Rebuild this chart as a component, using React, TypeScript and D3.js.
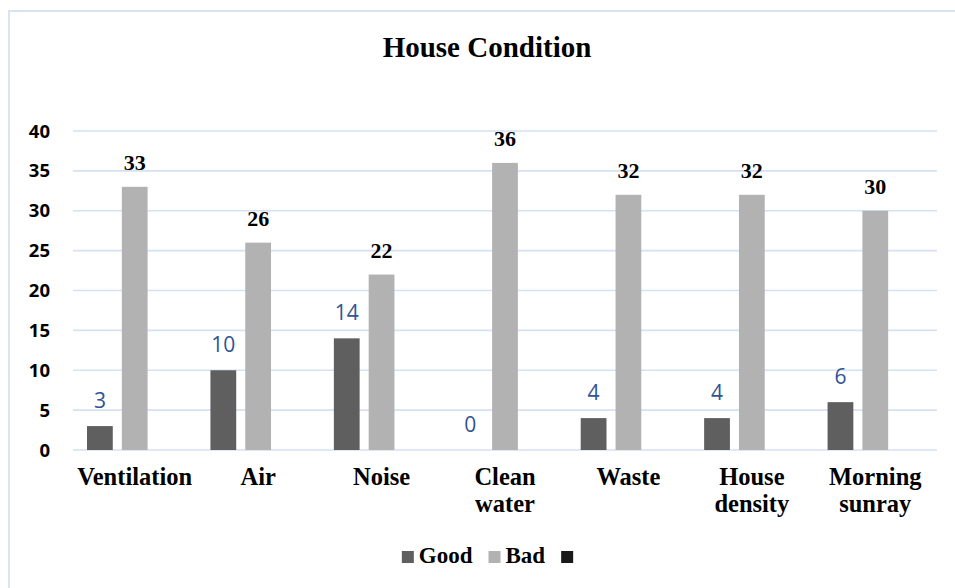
import { useRef, useEffect } from 'react'
import * as d3 from 'd3'

const categories = ['Ventilation', 'Air', 'Noise', 'Clean water', 'Waste', 'House density', 'Morning sunray']
const goodValues = [3, 10, 14, 0, 4, 4, 6]
const badValues = [33, 26, 22, 36, 32, 32, 30]
const thirdValues = [0, 0, 0, 0, 0, 0, 0]
const seriesNames = ['Good', 'Bad', '']
const yTicks = [0, 5, 10, 15, 20, 25, 30, 35, 40]

const W = 955
const H = 588

export default function App() {
  const svgRef = useRef<SVGSVGElement>(null)

  useEffect(() => {
    const svg = d3.select(svgRef.current)
    svg.selectAll('*').remove()

    const left = 73
    const right = 937
    const top = 131
    const bottom = 450

    const x = d3.scaleBand().domain(categories).range([left, right]).paddingInner(0).paddingOuter(0)
    const inner = d3.scaleBand().domain(['0', '1', '2']).range([14, x.bandwidth() - 14]).paddingInner(0.26).paddingOuter(0)
    const y = d3.scaleLinear().domain([0, 40]).range([bottom, top])

    const colors = ['#5f5f5f', '#b2b2b2', '#1a1a1a']
    const series = [goodValues, badValues, thirdValues]
    const serif = '"Liberation Serif", "Times New Roman", serif'

    // outer frame (runs off the right / bottom edge)
    svg.append('rect')
      .attr('x', 9).attr('y', 11)
      .attr('width', W + 20).attr('height', H + 20)
      .attr('fill', 'none')
      .attr('stroke', '#d9e3f3')
      .attr('stroke-width', 2)

    svg.append('text')
      .attr('x', 487).attr('y', 57)
      .attr('text-anchor', 'middle')
      .attr('font-family', serif)
      .attr('font-weight', 700)
      .attr('font-size', 29)
      .attr('fill', '#000')
      .text('House Condition')

    // gridlines
    svg.append('g')
      .selectAll('line')
      .data(yTicks)
      .join('line')
      .attr('x1', left).attr('x2', right)
      .attr('y1', (d) => y(d)).attr('y2', (d) => y(d))
      .attr('stroke', '#d6e1f4')
      .attr('stroke-width', 1.6)

    // y tick labels
    svg.append('g')
      .selectAll('text')
      .data(yTicks)
      .join('text')
      .attr('x', 50)
      .attr('y', (d) => y(d) + 6.5)
      .attr('text-anchor', 'end')
      .attr('font-family', '"Open Sans", sans-serif')
      .attr('font-weight', 700)
      .attr('font-size', 18.5)
      .attr('fill', '#000')
      .text((d) => d)

    // bars
    series.forEach((vals, si) => {
      svg.append('g')
        .selectAll('rect')
        .data(vals.map((v, i) => ({ v, c: categories[i] })))
        .join('rect')
        .attr('x', (d) => (x(d.c) ?? 0) + (inner(String(si)) ?? 0))
        .attr('width', inner.bandwidth())
        .attr('y', (d) => y(d.v))
        .attr('height', (d) => y(0) - y(d.v))
        .attr('fill', colors[si])
    })

    // good value labels
    svg.append('g')
      .selectAll('text')
      .data(goodValues.map((v, i) => ({ v, c: categories[i] })))
      .join('text')
      .attr('x', (d) => (x(d.c) ?? 0) + (inner('0') ?? 0) + inner.bandwidth() / 2)
      .attr('y', (d) => y(d.v) - 18)
      .attr('text-anchor', 'middle')
      .attr('font-family', '"Open Sans", sans-serif')
      .attr('font-size', 21)
      .attr('fill', '#2f5496')
      .text((d) => d.v)

    // bad value labels
    svg.append('g')
      .selectAll('text')
      .data(badValues.map((v, i) => ({ v, c: categories[i] })))
      .join('text')
      .attr('x', (d) => (x(d.c) ?? 0) + (inner('1') ?? 0) + inner.bandwidth() / 2)
      .attr('y', (d) => y(d.v) - 17)
      .attr('text-anchor', 'middle')
      .attr('font-family', serif)
      .attr('font-weight', 700)
      .attr('font-size', 22)
      .attr('fill', '#000')
      .text((d) => d.v)

    // category labels
    const xl = svg.append('g')
      .selectAll('text')
      .data(categories)
      .join('text')
      .attr('x', (d) => (x(d) ?? 0) + x.bandwidth() / 2)
      .attr('y', 485)
      .attr('text-anchor', 'middle')
      .attr('font-family', serif)
      .attr('font-weight', 700)
      .attr('font-size', 24.5)
      .attr('fill', '#000')
    xl.each(function (d) {
      const words = d.split(' ')
      const t = d3.select(this)
      words.forEach((w, i) => {
        t.append('tspan')
          .attr('x', (x(d) ?? 0) + x.bandwidth() / 2)
          .attr('dy', i === 0 ? 0 : 27)
          .text(w)
      })
    })

    // legend
    const lg = svg.append('g')
    let cx = 0
    seriesNames.forEach((name, i) => {
      lg.append('rect')
        .attr('x', cx).attr('y', 551)
        .attr('width', 12).attr('height', 12)
        .attr('fill', colors[i])
      cx += 17
      if (name) {
        const t = lg.append('text')
          .attr('x', cx).attr('y', 563)
          .attr('font-family', serif)
          .attr('font-weight', 700)
          .attr('font-size', 23)
          .attr('fill', '#000')
          .text(name)
        const w = (t.node() as SVGTextElement).getComputedTextLength()
        cx += w + 16
      }
    })
    lg.attr('transform', `translate(${490 - cx / 2},0)`)
  }, [])

  return (
    <svg
      ref={svgRef}
      width={W}
      height={H}
      style={{ position: 'absolute', left: 0, top: 0, background: '#fff' }}
    />
  )
}
